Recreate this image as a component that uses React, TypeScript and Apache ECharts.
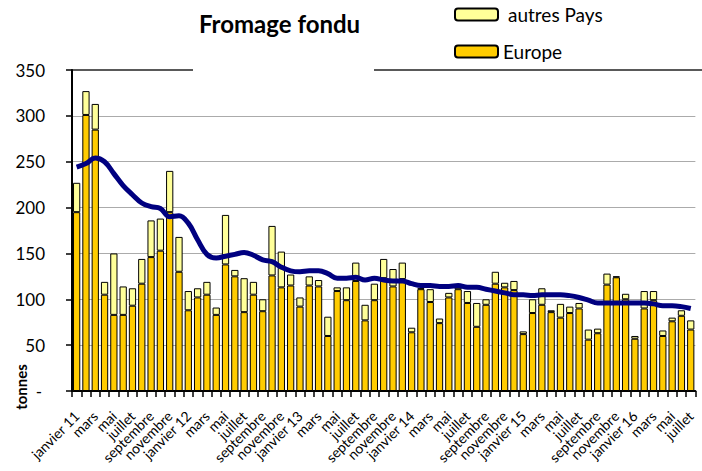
import React, { useEffect, useRef } from "react";
import * as echarts from "echarts";

const MONTHS = ["janvier", "février", "mars", "avril", "mai", "juin", "juillet", "août", "septembre", "octobre", "novembre", "décembre"];
const YEARS = ["11", "12", "13", "14", "15", "16"];
const N_MONTHS = 67;
const categories: string[] = [];
for (let i = 0; i < N_MONTHS; i++) {
  const m = i % 12;
  const y = Math.floor(i / 12);
  categories.push(m === 0 ? `${MONTHS[m]} ${YEARS[y]}` : MONTHS[m]);
}

const europe = [
  195, 301, 285, 105, 83, 83, 93, 117, 146, 153, 195, 130,
  88, 102, 105, 83, 138, 125, 86, 105, 87, 126, 113, 115,
  92, 115, 114, 60, 109, 99, 120, 77, 99, 123, 114, 122,
  64, 111, 97, 74, 102, 111, 96, 70, 94, 117, 113, 110,
  62, 85, 94, 86, 80, 85, 90, 56, 63, 116, 124, 100,
  57, 90, 99, 60, 76, 82, 67,
];
const autresPays = [
  32, 26, 28, 14, 67, 31, 19, 27, 40, 35, 45, 38,
  21, 10, 14, 8, 54, 7, 37, 14, 13, 54, 39, 12,
  10, 10, 7, 21, 4, 14, 20, 17, 18, 21, 19, 18,
  5, 1, 14, 5, 5, 5, 13, 26, 6, 13, 5, 10,
  3, 15, 18, 2, 15, 7, 6, 11, 5, 12, 1, 6,
  3, 19, 10, 6, 4, 6, 10,
];
const moyenneMobile = [
  244, 248, 254, 250, 237, 224, 214, 205, 201, 199, 190, 191,
  183, 165, 149, 145, 147, 149, 151, 148, 143, 141, 135, 131,
  130, 131, 131, 128, 123, 123, 124, 121, 123, 121, 120, 120,
  117, 115, 115, 114, 114, 115, 113, 113, 111, 109, 107, 105,
  105, 104, 105, 105, 105, 104, 102, 99, 96, 96, 96, 96,
  96, 96, 95, 93, 93, 92, 90,
];

const FONT = "Lato, 'Liberation Sans', sans-serif";

export default function App() {
  const ref = useRef<HTMLDivElement>(null);
  useEffect(() => {
    if (!ref.current) return;
    const chart = echarts.init(ref.current, null, { renderer: "svg" });
    chart.setOption({
      animation: false,
      backgroundColor: "#ffffff",
      textStyle: { fontFamily: FONT, color: "#000" },
      title: {
        text: "Fromage fondu",
        left: 199,
        top: 11,
        padding: 0,
        textStyle: { fontFamily: FONT, fontSize: 24, fontWeight: "bold", color: "#000" },
      },
      legend: [
        {
          data: ["autres Pays"],
          left: 454,
          top: 5,
          padding: 0,
          itemWidth: 43,
          itemHeight: 12,
          textStyle: { fontFamily: FONT, fontSize: 19, color: "#000", padding: [0, 0, 0, 5] },
        },
        {
          data: ["Europe"],
          left: 454,
          top: 42,
          padding: 0,
          itemWidth: 43,
          itemHeight: 12,
          textStyle: { fontFamily: FONT, fontSize: 19, color: "#000" },
        },
      ],
      grid: { left: 72, right: 0, top: 70, bottom: 80, containLabel: false },
      xAxis: {
        type: "category",
        data: categories,
        axisLine: { show: true, lineStyle: { color: "#000", width: 2 } },
        axisTick: { show: true, interval: 0, length: 6, lineStyle: { color: "#000", width: 1.5 } },
        axisLabel: {
          interval: 0,
          formatter: (v: string, i: number) => (i % 2 === 0 ? v : ""),
          rotate: 45,
          margin: 14,
          verticalAlign: "top",
          padding: [0, 6, 0, 0],
          lineHeight: 12,
          hideOverlap: false,
          fontFamily: FONT,
          fontSize: 14,
          color: "#000",
        },
        splitLine: { show: false },
      },
      yAxis: {
        type: "value",
        min: 0,
        max: 350,
        interval: 50,
        axisLine: { show: true, lineStyle: { color: "#000", width: 2 } },
        axisTick: { show: true, length: 6, lineStyle: { color: "#000", width: 1.5 } },
        axisLabel: {
          margin: 27,
          fontFamily: FONT,
          fontSize: 17,
          color: "#000",
          formatter: (v: number) => (v === 0 ? "{z|-}" : String(v)),
          rich: { z: { fontFamily: FONT, fontSize: 17, color: "#000", padding: [0, 3, 0, 0] } },
        },
        splitLine: {
          show: true,
          showMinLine: false,
          showMaxLine: false,
          lineStyle: { color: "#ababab", width: 1 },
        },
      },
      series: [
        {
          name: "Europe",
          type: "bar",
          stack: "total",
          data: europe,
          barCategoryGap: "22%",
          itemStyle: { color: "#FFCC00", borderColor: "#000", borderWidth: 1 },
        },
        {
          name: "autres Pays",
          type: "bar",
          stack: "total",
          data: autresPays,
          barCategoryGap: "22%",
          itemStyle: { color: "#FFFF99", borderColor: "#000", borderWidth: 1 },
        },
        {
          name: "moyenne mobile",
          type: "line",
          data: moyenneMobile,
          smooth: 0.4,
          symbol: "none",
          lineStyle: { color: "#000080", width: 5 },
          z: 5,
        },
      ],
      graphic: [
        { type: "line", shape: { x1: 72, y1: 70, x2: 193, y2: 70 }, style: { stroke: "#222", lineWidth: 1.5 } },
        { type: "line", shape: { x1: 374, y1: 70, x2: 702, y2: 70 }, style: { stroke: "#222", lineWidth: 1.5 } },
        {
          type: "text",
          x: 21,
          y: 387,
          rotation: Math.PI / 2,
          style: {
            text: "tonnes",
            font: `bold 15px ${FONT}`,
            fill: "#000",
            textAlign: "center",
            textVerticalAlign: "middle",
          },
        },
      ],
    });
    return () => chart.dispose();
  }, []);
  return <div ref={ref} style={{ position: "absolute", left: 0, top: 0, width: 702, height: 471 }} />;
}
